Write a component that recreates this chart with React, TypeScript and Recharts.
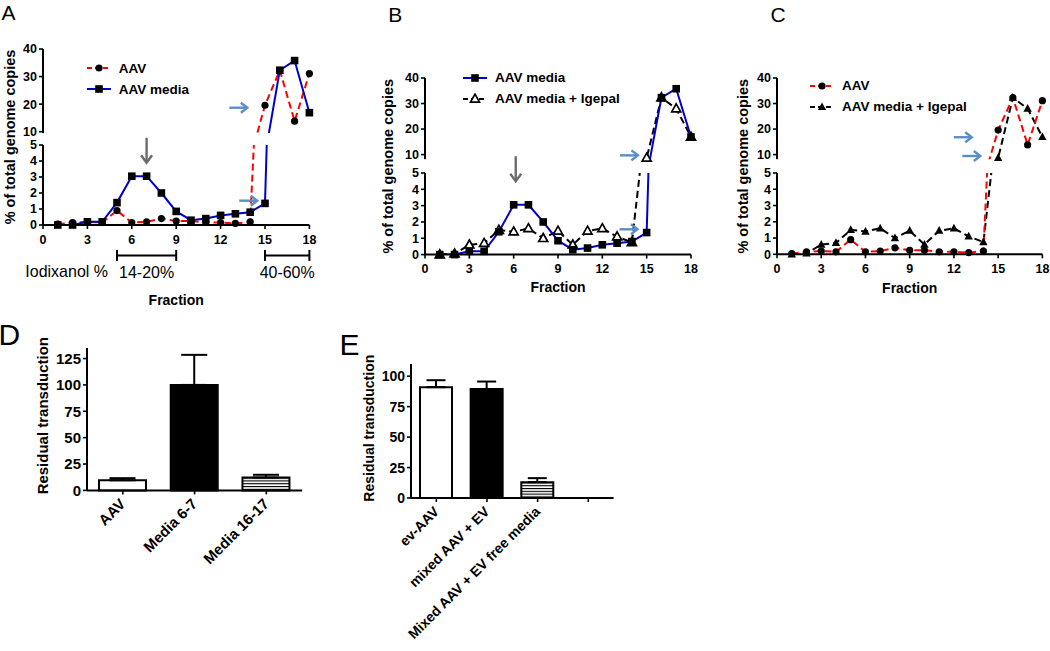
import React from 'react';
import {
  ComposedChart, Line, Scatter, XAxis, YAxis, ReferenceDot, ReferenceLine, Legend,
  BarChart, Bar, Cell, ErrorBar,
} from 'recharts';

const FONT = '"Liberation Sans", Arial, Helvetica, sans-serif';

// ---------------- data ----------------
const fractions = [1, 2, 3, 4, 5, 6, 7, 8, 9, 10, 11, 12, 13, 14, 15, 16, 17, 18];
const aavValues = [0.05, 0.15, 0.2, 0.15, 0.9, 0.15, 0.2, 0.4, 0.25, 0.25, 0.15, 0.15, 0.1, 0.2, 19.6, 32.3, 13.8, 31.1];
const aavMediaValues = [0, 0, 0.2, 0.2, 1.4, 3.05, 3.05, 2.0, 0.85, 0.3, 0.4, 0.6, 0.7, 0.8, 1.35, 32.3, 35.8, 16.9];
const aavMediaIgepalValues = [0, 0.05, 0.6, 0.7, 1.5, 1.4, 1.6, 1.0, 1.45, 0.6, 1.45, 1.6, 1.1, 0.75, 8.7, 32.3, 28.0, 16.9];

const fractionTicks = [0, 3, 6, 9, 12, 15, 18];
const lowerTicks = [0, 1, 2, 3, 4, 5];
const upperTicks = [10, 20, 30, 40];

const barCategoriesD = ['AAV', 'Media 6-7', 'Media 16-17'];
const barValuesD = [9.6, 100, 12.2];
const barErrorsD = [2, 28.5, 2.6];
const yTicksD = [0, 25, 50, 75, 100, 125];

const barCategoriesE = ['ev-AAV', 'mixed AAV + EV', 'Mixed AAV + EV free media', ''];
const barValuesE: (number | null)[] = [91, 89.5, 13, null];
const barErrorsE: (number | null)[] = [5.7, 6.1, 3.3, null];
const yTicksE = [0, 25, 50, 75, 100];

const iodixanolRanges = [
  { from: 5, to: 9, label: '14-20%' },
  { from: 15, to: 18, label: '40-60%' },
];
const iodixanolLevel = -1.9;

type ArrowSpec = { seg: 'upper' | 'lower'; x: number; y: number; kind: 'down' | 'right' };
const arrowsA: ArrowSpec[] = [
  { seg: 'lower', x: 7, y: 4.67, kind: 'down' },
  { seg: 'upper', x: 13.2, y: 18.7, kind: 'right' },
  { seg: 'lower', x: 13.87, y: 1.52, kind: 'right' },
];
const arrowsB: ArrowSpec[] = [
  { seg: 'lower', x: 6.14, y: 5.26, kind: 'down' },
  { seg: 'upper', x: 13.8, y: 9.7, kind: 'right' },
  { seg: 'lower', x: 13.77, y: 1.55, kind: 'right' },
];
const arrowsC: ArrowSpec[] = [
  { seg: 'upper', x: 12.6, y: 16.8, kind: 'right' },
  { seg: 'upper', x: 13.18, y: 9.45, kind: 'right' },
];

const lineData = fractions.map((f, i) => ({
  f,
  aav: aavValues[i],
  media: aavMediaValues[i],
  igepal: aavMediaIgepalValues[i],
}));

const dataD = barCategoriesD.map((name, i) => ({ name, value: barValuesD[i], err: [0, barErrorsD[i]] }));
const dataE = barCategoriesE.map((name, i) => ({
  name,
  value: barValuesE[i],
  err: barErrorsE[i] == null ? undefined : [0, barErrorsE[i] as number],
}));

// ---------------- styles ----------------
type Key = 'aav' | 'media' | 'igepal';
type MarkerKind = 'circle' | 'square' | 'triOpen' | 'triFilled';
const SERIES: Record<Key, { name: string; color: string; dash?: string }> = {
  aav: { name: 'AAV', color: '#FF0000', dash: '7 4' },
  media: { name: 'AAV media', color: '#0000CC' },
  igepal: { name: 'AAV media + Igepal', color: '#000000', dash: '7 4' },
};
const barFills = ['#FFFFFF', '#000000', 'url(#hstripes)', '#FFFFFF'];

const axisLineStyle = { stroke: '#000', strokeWidth: 2 };
const tickLineStyle = { stroke: '#000', strokeWidth: 1.6 };
const smallTick = { fontSize: 12.5, fontWeight: 700, fill: '#000', fontFamily: FONT };

function Marker({ kind, cx, cy }: { kind: MarkerKind; cx: number; cy: number }) {
  if (cx == null || cy == null || isNaN(cx) || isNaN(cy)) return <g />;
  switch (kind) {
    case 'circle':
      return <circle cx={cx} cy={cy} r={3.6} fill="#000" />;
    case 'square':
      return <rect x={cx - 3.8} y={cy - 3.8} width={7.6} height={7.6} fill="#000" />;
    case 'triOpen':
      return (
        <polygon
          points={`${cx},${cy - 4.8} ${cx + 4.5},${cy + 3.2} ${cx - 4.5},${cy + 3.2}`}
          fill="#fff" stroke="#000" strokeWidth={1.7}
        />
      );
    default:
      return <polygon points={`${cx},${cy - 4.6} ${cx + 4.2},${cy + 3.1} ${cx - 4.2},${cy + 3.1}`} fill="#000" />;
  }
}

function Arrow({ kind, cx, cy }: { kind: 'down' | 'right'; cx: number; cy: number }) {
  if (kind === 'down') {
    return (
      <g stroke="#6B6B6B" strokeWidth={2.4} fill="none">
        <line x1={cx} y1={cy - 12.5} x2={cx} y2={cy + 12} />
        <polyline points={`${cx - 5.5},${cy + 5} ${cx},${cy + 12.5} ${cx + 5.5},${cy + 5}`} />
      </g>
    );
  }
  return (
    <g stroke="#5B8DC9" strokeWidth={2.4} fill="none">
      <line x1={cx - 9} y1={cy} x2={cx + 8.5} y2={cy} />
      <polyline points={`${cx + 2.5},${cy - 5} ${cx + 9},${cy} ${cx + 2.5},${cy + 5}`} />
    </g>
  );
}

function Bracket(props: any) {
  const { x1, x2, y1, label, prefix } = props;
  if (x1 == null) return <g />;
  return (
    <g>
      <line x1={x1} y1={y1} x2={x2} y2={y1} stroke="#000" strokeWidth={2} />
      <line x1={x1} y1={y1 - 5.5} x2={x1} y2={y1 + 5.5} stroke="#000" strokeWidth={2} />
      <line x1={x2} y1={y1 - 5.5} x2={x2} y2={y1 + 5.5} stroke="#000" strokeWidth={2} />
      <text x={(x1 + x2) / 2} y={y1 + 23} textAnchor="middle" fontSize={16} fontFamily={FONT} fill="#000">{label}</text>
      {prefix ? (
        <text x={x1 - 9} y={y1 + 21.5} textAnchor="end" fontSize={16} fontFamily={FONT} fill="#000">{prefix}</text>
      ) : null}
    </g>
  );
}

type SeriesUse = { key: Key; marker: MarkerKind };

function LegendBox({ items }: { items: SeriesUse[] }) {
  return (
    <div style={{ fontFamily: FONT, fontWeight: 700, fontSize: 13.5, color: '#000' }}>
      {items.map((it) => {
        const s = SERIES[it.key];
        return (
          <div key={it.key} style={{ display: 'flex', alignItems: 'center', height: 21 }}>
            <svg width={24} height={12} style={{ display: 'block' }}>
              <line x1={0} y1={6} x2={24} y2={6} stroke={s.color} strokeWidth={2} strokeDasharray={s.dash ? '5 3' : undefined} />
              <Marker kind={it.marker} cx={12} cy={6} />
            </svg>
            <span style={{ marginLeft: 8, whiteSpace: 'nowrap' }}>{s.name}</span>
          </div>
        );
      })}
    </div>
  );
}

type PanelSpec = {
  x0: number; x1: number; y40: number; y10: number; uMin: number; y5: number; y0: number;
  mr: number; xh: number; fracOffset: number; labelX: number; labelY: number;
  legendLeft: number; legendTop: number;
  draw: SeriesUse[]; legend: SeriesUse[]; arrows: ArrowSpec[]; brackets?: boolean;
};

function BrokenAxisPanel({ spec }: { spec: PanelSpec }) {
  const yw = 45;
  const ub = 8;
  const left = spec.x0 - yw;
  const width = yw + (spec.x1 - spec.x0) + spec.mr;
  const pxU = (spec.y10 - spec.y40) / 30;
  const upperPlotBottom = spec.y10 + (10 - spec.uMin) * pxU;
  const top = spec.y40 - 12;
  const upperHeight = 12 + (upperPlotBottom - spec.y40) + ub;
  const lowerMarginTop = spec.y5 - top;
  const lowerHeight = lowerMarginTop + (spec.y0 - spec.y5) + spec.xh;

  const lines = spec.draw.map((s) => (
    <Line
      key={`l-${s.key}`}
      yAxisId="y"
      type="linear"
      dataKey={s.key}
      stroke={SERIES[s.key].color}
      strokeWidth={2}
      strokeDasharray={SERIES[s.key].dash}
      dot={false}
      activeDot={false}
      isAnimationActive={false}
    />
  ));
  const markers = (lo: number, hi: number) =>
    spec.draw.map((s) => (
      <Scatter
        key={`m-${s.key}`}
        yAxisId="m"
        data={lineData.filter((d) => d[s.key] >= lo && d[s.key] <= hi)}
        dataKey={s.key}
        isAnimationActive={false}
        shape={(p: any) => <Marker kind={s.marker} cx={p.cx} cy={p.cy} />}
      />
    ));
  const arrows = (seg: 'upper' | 'lower') =>
    spec.arrows
      .filter((a) => a.seg === seg)
      .map((a, i) => (
        <ReferenceDot
          key={`a-${seg}-${i}`}
          yAxisId="y"
          x={a.x}
          y={a.y}
          ifOverflow="visible"
          shape={(p: any) => <Arrow kind={a.kind} cx={p.cx} cy={p.cy} />}
        />
      ));

  return (
    <>
      <div style={{ position: 'absolute', left, top }}>
        <ComposedChart width={width} height={upperHeight} data={lineData} margin={{ top: 12, right: spec.mr, bottom: ub, left: 0 }}>
          <XAxis type="number" dataKey="f" domain={[0, 18]} hide />
          <YAxis
            yAxisId="y" type="number" domain={[spec.uMin, 40]} ticks={upperTicks} interval={0}
            allowDataOverflow width={yw} tickSize={4} tickMargin={2}
            tick={smallTick} axisLine={axisLineStyle} tickLine={tickLineStyle}
          />
          <YAxis yAxisId="m" orientation="right" type="number" domain={[spec.uMin, 40]} hide />
          {lines}
          {markers(spec.uMin, 40)}
          {arrows('upper')}
          <Legend
            layout="vertical" align="center" verticalAlign="middle"
            wrapperStyle={{ left: spec.legendLeft - left, top: spec.legendTop - top, width: 'auto', height: 'auto' }}
            content={() => <LegendBox items={spec.legend} />}
          />
        </ComposedChart>
      </div>
      <div style={{ position: 'absolute', left, top }}>
        <ComposedChart width={width} height={lowerHeight} data={lineData} margin={{ top: lowerMarginTop, right: spec.mr, bottom: 0, left: 0 }}>
          <XAxis
            type="number" dataKey="f" domain={[0, 18]} ticks={fractionTicks} interval={0}
            height={spec.xh} tickSize={4} tickMargin={6} tick={smallTick}
            axisLine={axisLineStyle} tickLine={tickLineStyle}
            label={{ value: 'Fraction', position: 'insideBottom', offset: spec.fracOffset, fontSize: 14, fontWeight: 700, fill: '#000', fontFamily: FONT }}
          />
          <YAxis
            yAxisId="y" type="number" domain={[0, 5]} ticks={lowerTicks} interval={0}
            allowDataOverflow width={yw} tickSize={4} tickMargin={2}
            tick={smallTick} axisLine={axisLineStyle} tickLine={tickLineStyle}
            label={{
              value: '% of total genome copies', angle: -90, position: 'insideLeft',
              offset: spec.labelX - left, dy: spec.labelY - (spec.y5 + spec.y0) / 2,
              fontSize: 14.5, fontWeight: 700, fill: '#000', fontFamily: FONT,
              style: { textAnchor: 'middle' },
            }}
          />
          <YAxis yAxisId="m" orientation="right" type="number" domain={[0, 5]} hide />
          {lines}
          {markers(0, 5)}
          {arrows('lower')}
          {spec.brackets
            ? iodixanolRanges.map((r, i) => (
                <ReferenceLine
                  key={`b-${i}`}
                  yAxisId="y"
                  segment={[{ x: r.from, y: iodixanolLevel }, { x: r.to, y: iodixanolLevel }]}
                  ifOverflow="visible"
                  shape={(p: any) => <Bracket {...p} label={r.label} prefix={i === 0 ? 'Iodixanol %' : undefined} />}
                />
              ))
            : null}
        </ComposedChart>
      </div>
    </>
  );
}

const panelA: PanelSpec = {
  x0: 43.3, x1: 309.7, y40: 49.3, y10: 132, uMin: 9.5, y5: 145.3, y0: 225.3,
  mr: 8, xh: 85, fracOffset: 5.3, labelX: 10, labelY: 137.3,
  legendLeft: 86.7, legendTop: 57.8,
  draw: [{ key: 'aav', marker: 'circle' }, { key: 'media', marker: 'square' }],
  legend: [{ key: 'aav', marker: 'circle' }, { key: 'media', marker: 'square' }],
  arrows: arrowsA, brackets: true,
};
const panelB: PanelSpec = {
  x0: 425, x1: 691, y40: 77.7, y10: 154.3, uMin: 8.2, y5: 172.7, y0: 254.3,
  mr: 8, xh: 45, fracOffset: 7.3, labelX: 388, labelY: 166,
  legendLeft: 463, legendTop: 67.2,
  draw: [{ key: 'igepal', marker: 'triOpen' }, { key: 'media', marker: 'square' }],
  legend: [{ key: 'media', marker: 'square' }, { key: 'igepal', marker: 'triOpen' }],
  arrows: arrowsB,
};
const panelC: PanelSpec = {
  x0: 777.3, x1: 1042.7, y40: 77.7, y10: 154.3, uMin: 8.2, y5: 172.7, y0: 254,
  mr: 7, xh: 45, fracOffset: 6.7, labelX: 743, labelY: 166,
  legendLeft: 810, legendTop: 75.2,
  draw: [{ key: 'igepal', marker: 'triFilled' }, { key: 'aav', marker: 'circle' }],
  legend: [{ key: 'aav', marker: 'circle' }, { key: 'igepal', marker: 'triFilled' }],
  arrows: arrowsC,
};

function RotTick(props: any) {
  const { x, y, payload, fs } = props;
  return (
    <g transform={`translate(${x + 3.5},${y + 8.5})`}>
      <text textAnchor="end" transform="rotate(-45)" fontSize={fs} fontWeight={700} fontFamily={FONT} fill="#000">
        {payload.value}
      </text>
    </g>
  );
}

type BarSpec = {
  x0: number; x1: number; yTop: number; y0: number; domainMax: number; ticks: number[];
  xh: number; tickFs: number; catFs: number; labelFs: number; labelX: number; labelY: number;
  barSize: number; capHalf: number; data: any[];
};

function BarPanel({ spec }: { spec: BarSpec }) {
  const yw = 60;
  const mt = 16;
  const mr = 10;
  const left = spec.x0 - yw;
  const top = spec.yTop - mt;
  const width = yw + (spec.x1 - spec.x0) + mr;
  const height = mt + (spec.y0 - spec.yTop) + spec.xh;
  return (
    <div style={{ position: 'absolute', left, top }}>
      <BarChart width={width} height={height} data={spec.data} margin={{ top: mt, right: mr, bottom: 0, left: 0 }}>
        <XAxis
          dataKey="name" type="category" interval={0} height={spec.xh} tickSize={4}
          tick={<RotTick fs={spec.catFs} />} axisLine={axisLineStyle} tickLine={tickLineStyle}
        />
        <YAxis
          type="number" domain={[0, spec.domainMax]} ticks={spec.ticks} interval={0} width={yw}
          tickSize={4} tickMargin={2}
          tick={{ fontSize: spec.tickFs, fontWeight: 700, fill: '#000', fontFamily: FONT }}
          axisLine={axisLineStyle} tickLine={tickLineStyle}
          label={{
            value: 'Residual transduction', angle: -90, position: 'insideLeft',
            offset: spec.labelX - left, dy: spec.labelY - (spec.yTop + spec.y0) / 2,
            fontSize: spec.labelFs, fontWeight: 700, fill: '#000', fontFamily: FONT,
            style: { textAnchor: 'middle' },
          }}
        />
        <Bar dataKey="value" barSize={spec.barSize} stroke="#000" strokeWidth={2} isAnimationActive={false}>
          {spec.data.map((_: any, i: number) => (
            <Cell key={i} fill={barFills[i]} />
          ))}
          <ErrorBar dataKey="err" width={spec.capHalf} strokeWidth={2} stroke="#000" direction="y" />
        </Bar>
      </BarChart>
    </div>
  );
}

const panelD: BarSpec = {
  x0: 87.3, x1: 302.5, yTop: 348.3, y0: 490.7, domainMax: 135, ticks: yTicksD,
  xh: 90, tickFs: 15, catFs: 15, labelFs: 15, labelX: 42.5, labelY: 416,
  barSize: 47, capHalf: 13, data: dataD,
};
const panelE: BarSpec = {
  x0: 410.7, x1: 613.3, yTop: 364.3, y0: 498.3, domainMax: 110, ticks: yTicksE,
  xh: 152, tickFs: 14, catFs: 14, labelFs: 14, labelX: 369, labelY: 428.5,
  barSize: 32, capHalf: 9.5, data: dataE,
};

export default function App() {
  return (
    <div style={{ position: 'absolute', left: 0, top: 0, width: 1050, height: 651, background: '#fff', overflow: 'hidden' }}>
      <svg width={0} height={0} style={{ position: 'absolute' }}>
        <defs>
          <pattern id="hstripes" width={6} height={2.8} patternUnits="userSpaceOnUse">
            <rect width={6} height={2.8} fill="#fff" />
            <rect y={0} width={6} height={1.1} fill="#000" />
          </pattern>
        </defs>
      </svg>
      <svg width={1050} height={651} style={{ position: 'absolute', left: 0, top: 0 }}>
        <g fontFamily={FONT} fill="#000">
          <text x={1.5} y={20} fontSize={21}>A</text>
          <text x={388.3} y={21.5} fontSize={21}>B</text>
          <text x={770.5} y={21.5} fontSize={21}>C</text>
          <text x={-1.5} y={345} fontSize={30}>D</text>
          <text x={339.5} y={355} fontSize={30}>E</text>
        </g>
      </svg>
      <BrokenAxisPanel spec={panelA} />
      <BrokenAxisPanel spec={panelB} />
      <BrokenAxisPanel spec={panelC} />
      <BarPanel spec={panelD} />
      <BarPanel spec={panelE} />
    </div>
  );
}
